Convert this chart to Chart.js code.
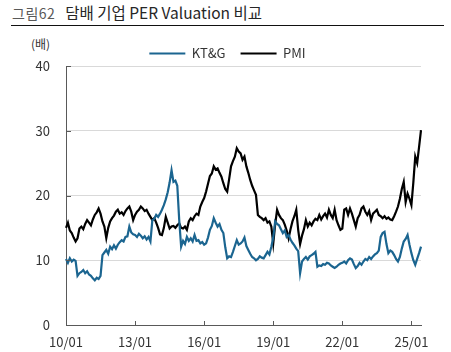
<!DOCTYPE html>
<html>
<head>
<meta charset="utf-8">
<script src="https://cdn.jsdelivr.net/npm/chart.js@4"></script>
<style>
  body { margin:0; background:#fff; width:451px; height:352px; position:relative; overflow:hidden;
         font-family:"Noto Sans CJK KR","Noto Sans",sans-serif; }
  #title { position:absolute; left:12px; top:0px; white-space:nowrap; }
  #title .no { font-size:14px; color:#595959; margin-right:10px; letter-spacing:0.5px; }
  #title .main { font-size:15.5px; color:#262626; }
  #rule { position:absolute; left:11px; top:25px; width:433px; border-top:1.5px solid #111; }
  #unit { position:absolute; left:31px; top:35px; font-size:12px; color:#333; }
  #wrap { position:absolute; left:0; top:0; width:451px; height:352px; }
</style>
</head>
<body>
<div id="title"><span class="no">그림62</span><span class="main">담배 기업 PER Valuation 비교</span></div>
<div id="rule"></div>
<div id="unit">(배)</div>
<div id="wrap"><canvas id="chart"></canvas></div>
<script>
// monthly, 2010/01 ~ 2025/06
const months = [];
for (let y = 10; y <= 25; y++) {
  for (let m = 1; m <= 12; m++) {
    if (y === 25 && m > 6) break;
    months.push(y + "/" + (m < 10 ? "0" + m : m));
  }
}
const tickLabels = ["10/01", "13/01", "16/01", "19/01", "22/01", "25/01"];
const yTicks = [0, 10, 20, 30, 40];

const ktng = [
  10.2, 9.6, 10.3, 9.8, 10.1, 9.9, 7.6, 8.0, 8.2, 8.5, 8.0, 8.3,
  7.8, 7.6, 7.2, 6.9, 7.3, 7.1, 7.6, 10.8, 11.2, 11.6, 11.0, 12.1,
  11.7, 12.3, 11.8, 12.4, 12.8, 13.1, 12.9, 13.6, 13.7, 15.2, 14.3, 14.0,
  13.9, 13.6, 14.1, 13.8, 13.4, 13.7, 13.2, 13.6, 12.9, 16.2, 16.4, 17.0,
  16.7, 17.2, 17.8, 18.5, 19.4, 20.5, 22.0, 23.9, 22.1, 22.3, 21.5, 16.2,
  12.1, 13.0, 12.5, 13.6, 13.0, 13.4, 12.9, 13.9, 13.0, 13.1, 12.6, 12.8,
  12.4, 12.6, 13.5, 14.7, 15.3, 16.5, 15.8, 15.2, 15.6, 14.7, 14.2, 12.0,
  10.3, 10.6, 10.5, 11.3, 12.2, 13.1, 12.4, 12.6, 12.9, 13.5, 12.2, 11.6,
  11.0, 10.5, 10.3, 10.0, 10.2, 10.6, 10.4, 10.3, 10.8, 11.3, 10.9, 12.1,
  13.5, 16.0, 15.6, 15.4, 14.8, 14.2, 14.6, 13.6, 13.9, 13.2, 12.7, 12.3,
  11.8, 11.4, 8.0, 9.8, 10.2, 10.5, 10.1, 10.6, 10.8, 11.0, 11.3, 9.0,
  9.2, 9.1, 9.4, 9.3, 9.6, 9.5, 9.2, 9.0, 8.8, 9.0, 9.3, 9.5,
  9.6, 9.8, 9.5, 10.0, 10.3, 10.1, 9.4, 8.8, 9.1, 9.6, 9.3, 9.8,
  10.2, 10.0, 10.5, 10.2, 10.6, 10.9, 11.1, 11.5, 13.6, 14.2, 14.4, 12.5,
  11.1, 11.5, 11.3, 10.8, 10.2, 9.8, 10.5, 11.8, 12.9, 13.3, 13.9, 12.4,
  11.1, 10.0, 9.3, 10.2, 11.1, 12.1
];

const pmi = [
  15.0, 15.8, 14.6, 14.2, 13.5, 12.9, 13.4, 14.9, 15.2, 14.8, 15.6, 16.2,
  15.8, 15.4, 16.3, 17.0, 17.4, 18.0, 17.2, 16.0, 15.2, 13.4, 15.0, 16.0,
  16.5, 16.9, 17.5, 17.8, 17.2, 17.4, 17.0, 17.6, 18.0, 18.3, 17.5, 16.2,
  17.0, 17.5, 17.8, 18.3, 18.0, 17.6, 17.8, 17.2, 16.7, 16.2, 16.5, 15.8,
  15.0, 14.0, 13.9, 15.0, 16.7, 15.8, 14.9, 15.2, 15.3, 15.0, 15.4, 15.7,
  15.0, 14.9, 15.2, 14.7, 16.0, 16.5, 16.2, 16.8, 17.2, 17.0, 18.3, 19.0,
  19.6, 20.6, 21.8, 23.0, 23.4, 24.5, 24.0, 24.2, 23.5, 22.9, 21.9, 21.0,
  20.6, 22.5, 24.5, 25.3, 26.0, 27.3, 26.8, 26.5, 25.5, 26.0, 24.5, 23.5,
  22.4, 21.5, 20.8, 20.1, 17.0, 16.7, 16.5, 16.2, 16.5, 15.8, 16.0, 15.2,
  12.6, 15.5, 17.8, 17.0, 16.5, 16.2, 15.5, 14.6, 13.4, 14.8, 16.0, 16.8,
  17.8, 14.7, 12.5, 13.8, 14.8, 16.2, 15.2, 15.8, 15.4, 16.0, 16.4, 16.2,
  17.0, 16.3, 16.8, 17.2, 16.6, 17.8, 17.0, 16.5, 17.8, 16.2, 15.4, 14.7,
  14.9, 17.8, 18.0, 17.0, 18.0, 17.2, 16.2, 15.2, 16.5, 17.0, 18.0, 18.3,
  17.5, 17.0, 17.6, 16.2, 17.2, 17.5, 17.8, 17.0, 16.8, 16.5, 16.8, 16.4,
  16.6, 16.3, 16.2, 16.8, 17.5, 18.3, 19.5, 21.0, 22.1, 19.0, 20.3, 19.5,
  18.5, 22.0, 26.0, 25.0, 27.5, 30.1
];

// short inward tick marks like the original
const innerTicks = {
  id: "innerTicks",
  afterDraw(chart) {
    const { ctx, chartArea, scales } = chart;
    ctx.save();
    ctx.strokeStyle = "#595959";
    ctx.lineWidth = 1;
    ctx.beginPath();
    tickLabels.forEach(l => {
      const x = Math.round(scales.x.getPixelForValue(months.indexOf(l))) + 0.5;
      ctx.moveTo(x, chartArea.bottom);
      ctx.lineTo(x, chartArea.bottom - 4);
    });
    yTicks.forEach(v => {
      const y = Math.round(scales.y.getPixelForValue(v)) + 0.5;
      ctx.moveTo(chartArea.left, y);
      ctx.lineTo(chartArea.left + 5, y);
    });
    ctx.stroke();
    ctx.restore();
  }
};

// nudge the legend row down a little, closer to the plot
const legendNudge = {
  id: "legendNudge",
  afterLayout(chart) {
    chart.legend.top += 4;
    chart.legend.bottom += 4;
  }
};

const family = "'Noto Sans CJK KR','Noto Sans',sans-serif";
const font = { family: family, size: 13 };

new Chart(document.getElementById("chart"), {
  type: "line",
  data: {
    labels: months,
    datasets: [
      { label: "KT&G", data: ktng, borderColor: "#1b6590", backgroundColor: "#1b6590",
        borderWidth: 2.2, pointRadius: 0, tension: 0 },
      { label: "PMI", data: pmi, borderColor: "#000000", backgroundColor: "#000000",
        borderWidth: 2.2, pointRadius: 0, tension: 0 }
    ]
  },
  options: {
    responsive: true,
    maintainAspectRatio: false,
    animation: false,
    layout: { padding: { top: 28, right: 30, bottom: 0, left: 34 } },
    plugins: {
      legend: {
        position: "top",
        labels: {
          usePointStyle: true, pointStyle: "line", pointStyleWidth: 36,
          color: "#333", font: font, padding: 15
        }
      },
      tooltip: { enabled: false }
    },
    scales: {
      x: {
        afterFit: s => { s.height = 27; },
        grid: { display: false, drawTicks: false },
        border: { display: true, color: "#595959", width: 1 },
        ticks: {
          autoSkip: false, maxRotation: 0, color: "#333", font: font, padding: 9,
          callback: function (v) {
            const l = this.getLabelForValue(v);
            return tickLabels.includes(l) ? l : "";
          }
        }
      },
      y: {
        min: 0, max: 40,
        afterFit: s => { s.width = 32; },
        grid: { color: "#d9d9d9", lineWidth: 1, drawTicks: false },
        border: { display: true, color: "#595959", width: 1 },
        ticks: { stepSize: 10, color: "#333", font: font, padding: 16 }
      }
    }
  },
  plugins: [innerTicks, legendNudge]
});
</script>
</body>
</html>
